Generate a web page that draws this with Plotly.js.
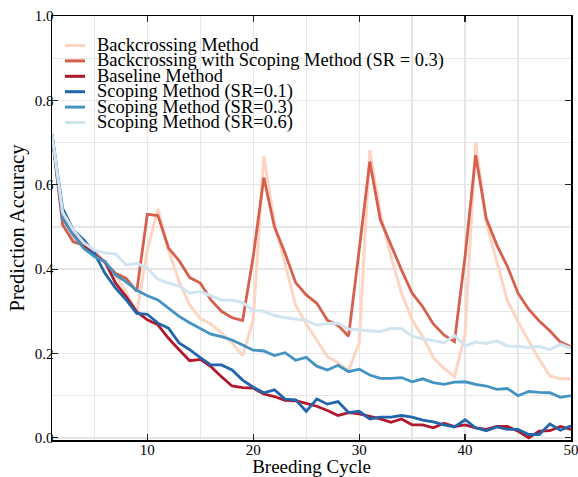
<!DOCTYPE html>
<html>
<head>
<meta charset="utf-8">
<script src="https://cdn.plot.ly/plotly-3.0.1.min.js"></script>
<style>html,body{margin:0;padding:0;background:#fff;}#chart{width:578px;height:477px;}</style>
</head>
<body>
<div id="chart"></div>
<script>
const cycles = [1,2,3,4,5,6,7,8,9,10,11,12,13,14,15,16,17,18,19,20,21,22,23,24,25,26,27,28,29,30,31,32,33,34,35,36,37,38,39,40,41,42,43,44,45,46,47,48,49,50];

const seriesNames = [
  "Backcrossing Method",
  "Backcrossing with Scoping Method (SR = 0.3)",
  "Baseline Method",
  "Scoping Method (SR=0.1)",
  "Scoping Method (SR=0.3)",
  "Scoping Method (SR=0.6)"
];

const backcrossing = [0.72,0.51,0.47,0.455,0.44,0.415,0.385,0.345,0.296,0.445,0.543,0.445,0.37,0.315,0.283,0.27,0.249,0.225,0.195,0.28,0.668,0.51,0.415,0.315,0.27,0.23,0.193,0.178,0.16,0.225,0.682,0.533,0.43,0.343,0.28,0.24,0.19,0.165,0.145,0.247,0.70,0.51,0.415,0.325,0.275,0.23,0.186,0.147,0.14,0.14];

const backcrossingScoping = [0.72,0.505,0.465,0.457,0.44,0.415,0.39,0.378,0.347,0.53,0.527,0.45,0.42,0.38,0.367,0.327,0.30,0.285,0.278,0.43,0.617,0.50,0.438,0.368,0.339,0.319,0.279,0.267,0.241,0.445,0.655,0.517,0.457,0.398,0.343,0.311,0.27,0.244,0.228,0.43,0.67,0.52,0.457,0.406,0.343,0.305,0.277,0.254,0.227,0.216];

const baseline = [0.72,0.521,0.485,0.457,0.432,0.418,0.367,0.335,0.299,0.28,0.268,0.236,0.209,0.183,0.186,0.169,0.145,0.123,0.119,0.118,0.104,0.098,0.089,0.088,0.082,0.075,0.065,0.053,0.06,0.057,0.051,0.045,0.037,0.045,0.031,0.031,0.024,0.035,0.027,0.031,0.024,0.02,0.027,0.027,0.016,0.0,0.016,0.017,0.027,0.02];

const scoping01 = [0.72,0.544,0.493,0.469,0.438,0.39,0.355,0.327,0.295,0.293,0.272,0.26,0.225,0.209,0.19,0.173,0.173,0.161,0.137,0.12,0.107,0.114,0.092,0.09,0.063,0.092,0.08,0.086,0.06,0.063,0.045,0.049,0.049,0.053,0.049,0.042,0.038,0.031,0.026,0.043,0.024,0.017,0.026,0.02,0.02,0.008,0.008,0.033,0.018,0.029];

const scoping03 = [0.72,0.52,0.481,0.449,0.43,0.418,0.386,0.37,0.35,0.337,0.327,0.307,0.288,0.273,0.26,0.246,0.24,0.232,0.22,0.208,0.206,0.195,0.202,0.184,0.191,0.17,0.161,0.172,0.157,0.163,0.149,0.141,0.141,0.143,0.133,0.14,0.131,0.127,0.132,0.133,0.127,0.123,0.115,0.117,0.10,0.11,0.108,0.107,0.096,0.10];

const scoping06 = [0.72,0.535,0.493,0.462,0.445,0.438,0.436,0.41,0.414,0.402,0.376,0.367,0.36,0.343,0.347,0.337,0.327,0.326,0.321,0.302,0.30,0.29,0.285,0.282,0.278,0.267,0.271,0.272,0.258,0.256,0.254,0.252,0.26,0.259,0.241,0.235,0.231,0.225,0.243,0.218,0.227,0.224,0.23,0.218,0.217,0.214,0.217,0.209,0.222,0.213];

const xTickVals = [10,20,30,40,50];
const yTickVals = [0.0,0.2,0.4,0.6,0.8,1.0];

const seriesValues = [backcrossing, backcrossingScoping, baseline, scoping01, scoping03, scoping06];
const colors = ["#fdd5c2", "#d6604d", "#b2182b", "#2166ac", "#4393c3", "#d1e5f0"];
const widths = [3, 2.8, 2.8, 2.8, 2.8, 3];

const traces = seriesValues.map((vals, i) => ({
  type: 'scatter', mode: 'lines',
  x: cycles, y: vals, name: seriesNames[i],
  line: {color: colors[i], width: widths[i]},
  showlegend: false, hoverinfo: 'skip'
}));

// Custom compact legend (pixel positions converted to paper coords)
const plotL = 52, plotW = 519, plotT = 16, plotH = 424;
const px2x = px => (px - plotL) / plotW;
const py2y = py => (plotT + plotH - py) / plotH;
const legendY0 = 45.5, legendStep = 15.4;
const annotations = [], shapes = [];
seriesNames.forEach((name, i) => {
  const py = legendY0 + i * legendStep;
  annotations.push({
    xref: 'paper', yref: 'paper', x: px2x(95), y: py2y(py),
    xanchor: 'left', yanchor: 'middle', showarrow: false,
    text: name, font: {size: 18.5, color: '#000', family: 'Liberation Serif, serif'}
  });
  shapes.push({
    type: 'line', xref: 'paper', yref: 'paper',
    x0: px2x(65), x1: px2x(85), y0: py2y(py), y1: py2y(py),
    line: {color: colors[i], width: 3}
  });
});

const gridColor = '#e6e6e6';
const layout = {
  width: 578, height: 477,
  margin: {l: 52, r: 7, t: 16, b: 37, pad: 0},
  paper_bgcolor: '#fff', plot_bgcolor: '#fff',
  showlegend: false,
  font: {family: 'Liberation Serif, serif', color: '#000', size: 14},
  xaxis: {
    range: [1, 50], tickmode: 'array', tickvals: xTickVals,
    ticks: 'inside', ticklen: 6, tickwidth: 1.2, tickcolor: '#222',
    showline: true, linecolor: '#000', linewidth: 1.5, mirror: 'ticks',
    showgrid: true, gridcolor: gridColor, gridwidth: 1.3,
    minor: {tickmode: 'linear', tick0: 0, dtick: 5, showgrid: true, gridcolor: gridColor, gridwidth: 1.3, ticks: ''},
    zeroline: false, tickfont: {size: 15}, ticklabeloverflow: 'allow',
    ticklabelstandoff: -5,
    title: {text: 'Breeding Cycle', font: {size: 19}, standoff: 0}
  },
  yaxis: {
    range: [-0.005, 1.0], tickmode: 'array', tickvals: yTickVals, tickformat: '.1f',
    ticks: 'inside', ticklen: 6, tickwidth: 1.2, tickcolor: '#222',
    showline: true, linecolor: '#000', linewidth: 1.5, mirror: 'ticks',
    showgrid: true, gridcolor: gridColor, gridwidth: 1.3,
    minor: {tickmode: 'linear', tick0: 0, dtick: 0.1, showgrid: true, gridcolor: gridColor, gridwidth: 1.3, ticks: ''},
    zeroline: false, tickfont: {size: 15}, ticklabeloverflow: 'allow',
    ticklabelstandoff: -6,
    title: {text: 'Prediction Accuracy', font: {size: 20.5}, standoff: 4}
  },
  annotations: annotations,
  shapes: shapes
};

Plotly.newPlot('chart', traces, layout, {displayModeBar: false, staticPlot: true});
</script>
</body>
</html>
